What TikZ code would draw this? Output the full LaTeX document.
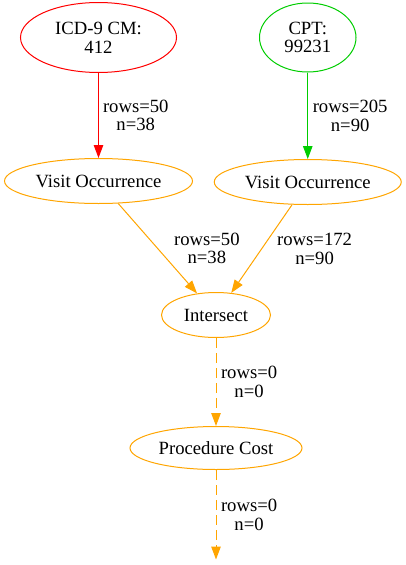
\documentclass[tikz,border=0pt]{standalone}
\usepackage{fontspec}
\setmainfont{Liberation Serif}
\usetikzlibrary{positioning,shapes.geometric,arrows.meta}

\definecolor{icdred}{RGB}{255,0,0}
\definecolor{cptgreen}{RGB}{0,205,0}
\definecolor{oporange}{RGB}{255,165,0}

\tikzset{
    source/.style={ellipse, draw, line width=1pt, inner sep=0pt, align=center},
    op/.style={ellipse, draw=oporange, line width=1pt, inner sep=0pt, minimum height=45pt},
    flow/.style={line width=1pt, -{Triangle[length=13pt,width=9.5pt]}},
    emptyflow/.style={flow, oporange, dash pattern=on 10pt off 5pt},
    rowlabel/.style={midway, text=black, inner sep=0pt, align=center}
}

\begin{document}
\begin{tikzpicture}[x=1pt, y=-1pt, font=\fontsize{18.67}{18.7}\selectfont]

    \useasboundingbox (0,0) rectangle (406,565); % same frame as the picture

    \node [source, draw=icdred, minimum width=156pt, minimum height=70pt] (icd) at (98.5,37.5) {ICD-9 CM:\\412}; % red source
    \node [source, draw=cptgreen, minimum width=96.5pt, minimum height=69pt, right=82pt of icd] (cpt) {CPT:\\99231}; % green source
    \node [op, minimum width=188pt, below=85pt of icd] (visitA) {Visit Occurrence}; % left visits
    \node [op, minimum width=187pt, below=86.5pt of cpt] (visitB) {Visit Occurrence}; % right visits
    \node [op, minimum width=109pt] (intersect) at (216,315) {Intersect}; % both sets
    \node [op, minimum width=172pt, minimum height=43pt, below=88pt of intersect] (cost) {Procedure Cost}; % cost step
    \coordinate [below=89.5pt of cost] (out); % open end

    \draw [flow, icdred] (icd) -- node [rowlabel, right=4pt] {rows=50\\n=38} (visitA);
    \draw [flow, cptgreen] (cpt) -- node [rowlabel, right=4.5pt] {rows=205\\n=90} (visitB);
    \draw [flow, oporange] (visitA) -- node [rowlabel, right=16pt] {rows=50\\n=38} (intersect);
    \draw [flow, oporange] (visitB) -- node [rowlabel, right=15pt] {rows=172\\n=90} (intersect);
    \draw [emptyflow] (intersect) -- node [rowlabel, right=4.5pt] {rows=0\\n=0} (cost);
    \draw [emptyflow] (cost) -- node [rowlabel, right=4.5pt] {rows=0\\n=0} (out);

\end{tikzpicture}
\end{document}
